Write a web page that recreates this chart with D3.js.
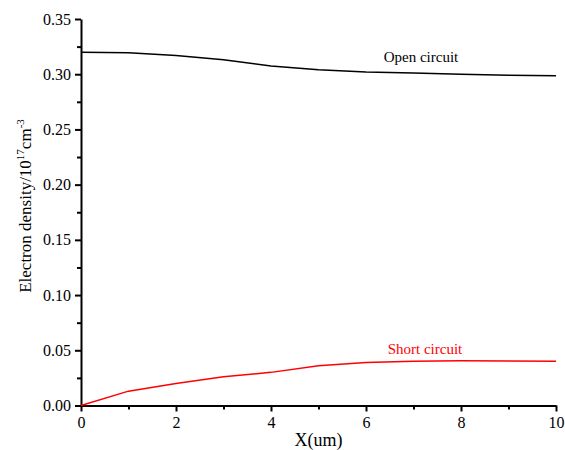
<!DOCTYPE html>
<html>
<head>
<meta charset="utf-8">
<script src="https://cdn.jsdelivr.net/npm/d3@7"></script>
<style>
  body { margin: 0; background: #fff; }
  text { font-family: "Liberation Serif", "Times New Roman", serif; }
</style>
</head>
<body>
<div id="chart"></div>
<script>
// datos
const xVals = [0, 1, 2, 3, 4, 5, 6, 7, 8, 9, 10];
const openCircuit = [0.320, 0.3195, 0.317, 0.313, 0.3075, 0.304, 0.302, 0.301, 0.300, 0.299, 0.2985];
const shortCircuit = [0, 0.013, 0.020, 0.026, 0.030, 0.036, 0.039, 0.040, 0.0405, 0.0403, 0.040];
const xTicks = [0, 2, 4, 6, 8, 10];
const yTicks = [0, 0.05, 0.10, 0.15, 0.20, 0.25, 0.30, 0.35];

const width = 565;
const height = 450;
const margin = { top: 19, right: 9, bottom: 44.5, left: 81 };

const svg = d3.select("#chart")
    .append("svg")
    .attr("width", width)
    .attr("height", height);

const xScale = d3.scaleLinear()
    .domain([0, 10])
    .range([margin.left, width - margin.right]);

const yScale = d3.scaleLinear()
    .domain([0, 0.35])
    .range([height - margin.bottom, margin.top]);

// ejes con ticks menores
const xMinor = d3.range(1, 10, 2);
const yMinor = d3.range(0.025, 0.35, 0.05);

svg.append("g")
    .attr("transform", `translate(0,${height - margin.bottom})`)
    .call(d3.axisBottom(xScale).tickValues(xMinor).tickSize(4).tickFormat(""))
    .call(g => g.select(".domain").remove())
    .selectAll("line").attr("stroke-width", 2);

svg.append("g")
    .attr("transform", `translate(${margin.left},0)`)
    .call(d3.axisLeft(yScale).tickValues(yMinor).tickSize(4).tickFormat(""))
    .call(g => g.select(".domain").remove())
    .selectAll("line").attr("stroke-width", 2);

const xAxis = svg.append("g")
    .attr("transform", `translate(0,${height - margin.bottom})`)
    .call(d3.axisBottom(xScale).tickValues(xTicks).tickSize(6).tickSizeOuter(0).tickPadding(5).tickFormat(d3.format("d")));

const yAxis = svg.append("g")
    .attr("transform", `translate(${margin.left},0)`)
    .call(d3.axisLeft(yScale).tickValues(yTicks).tickSize(6).tickSizeOuter(0).tickPadding(4).tickFormat(d3.format(".2f")));

[xAxis, yAxis].forEach(a => {
    a.attr("font-family", "Liberation Serif");
    a.select(".domain").attr("stroke-width", 2);
    a.selectAll("line").attr("stroke-width", 2);
    a.selectAll("text")
        .attr("font-size", 16)
        .attr("fill", "#000");
});

// lineas
const linea = d3.line()
    .x((d, i) => xScale(xVals[i]))
    .y(d => yScale(d));

svg.append("path")
    .datum(openCircuit)
    .attr("fill", "none")
    .attr("stroke", "#000")
    .attr("stroke-width", 1.5)
    .attr("d", linea);

svg.append("path")
    .datum(shortCircuit)
    .attr("fill", "none")
    .attr("stroke", "#ff0000")
    .attr("stroke-width", 1.5)
    .attr("d", linea);

// etiquetas
svg.append("text")
    .attr("x", 421)
    .attr("y", 62)
    .attr("text-anchor", "middle")
    .attr("font-size", 15)
    .text("Open circuit");

svg.append("text")
    .attr("x", 425)
    .attr("y", 354)
    .attr("text-anchor", "middle")
    .attr("font-size", 15)
    .attr("fill", "#ff0000")
    .text("Short circuit");

svg.append("text")
    .attr("x", (margin.left + width - margin.right) / 2)
    .attr("y", 446)
    .attr("text-anchor", "middle")
    .attr("font-size", 18)
    .text("X(um)");

const yTitle = svg.append("text")
    .attr("transform", "translate(31,206) rotate(-90)")
    .attr("text-anchor", "middle")
    .attr("font-size", 17);
yTitle.append("tspan").text("Electron density/10");
yTitle.append("tspan").attr("dy", -7).attr("font-size", 11).text("17");
yTitle.append("tspan").attr("dy", 7).text("cm");
yTitle.append("tspan").attr("dy", -7).attr("font-size", 11).text("-3");
</script>
</body>
</html>
